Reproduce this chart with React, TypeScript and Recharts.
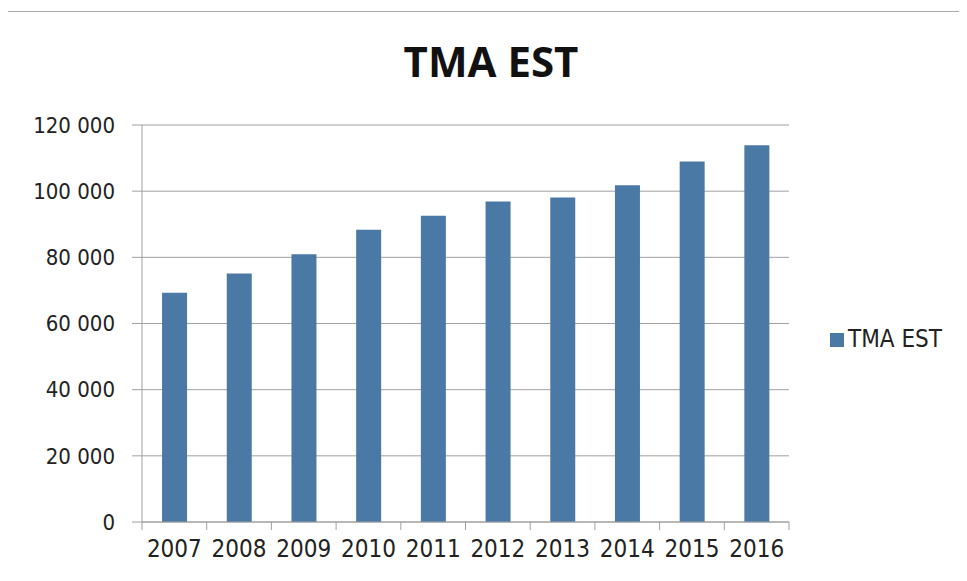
import { BarChart, Bar, XAxis, YAxis, CartesianGrid, Legend } from "recharts";

const years = ["2007", "2008", "2009", "2010", "2011", "2012", "2013", "2014", "2015", "2016"];
const tmaEst = [69300, 75100, 80900, 88300, 92600, 96900, 98100, 101800, 109000, 113900];
const yTicks = [0, 20000, 40000, 60000, 80000, 100000, 120000];
const boundaryTicks = [0, 1, 2, 3, 4, 5, 6, 7, 8, 9, 10];

const data = years.map((year, i) => ({ year, idx: i + 0.5, "TMA EST": tmaEst[i] }));

const barColor = "#4a79a5";
const gridColor = "#a0a0a0";
const axisFont = "'Liberation Sans Narrow', 'DejaVu Sans Condensed', sans-serif";

const fmt = (v: number) => String(v).replace(/\B(?=(\d{3})+(?!\d))/g, " ");

export default function App() {
  return (
    <div
      style={{
        position: "relative",
        width: 959,
        height: 580,
        marginLeft: -1,
        marginTop: 3,
        borderTop: "1px solid #aaa",
        borderLeft: "1px solid #aaa",
        background: "#fff",
      }}
    >
      <div
        style={{
          position: "absolute",
          left: 0,
          top: 28,
          width: 966,
          textAlign: "center",
          fontFamily: "'Open Sans', sans-serif",
          fontWeight: 700,
          fontSize: 42,
          lineHeight: "42px",
          color: "#111",
          zIndex: 1,
        }}
      >
        TMA EST
      </div>
      <BarChart
        width={958}
        height={565}
        data={data}
        margin={{ top: 113, right: 177, bottom: 15, left: 14 }}
        barCategoryGap="31%"
      >
        <CartesianGrid horizontal vertical={false} stroke={gridColor} />
        <XAxis
          xAxisId="bounds"
          type="number"
          dataKey="idx"
          domain={[0, 10]}
          ticks={boundaryTicks}
          tick={() => <g />}
          tickSize={8}
          height={10}
          stroke={gridColor}
          interval={0}
        />
        <XAxis
          xAxisId="cat"
          dataKey="year"
          axisLine={false}
          tickLine={false}
          height={30}
          tickMargin={2}
          tick={{ fill: "#222", fontSize: 24, fontFamily: axisFont }}
          interval={0}
        />
        <YAxis
          domain={[0, 120000]}
          ticks={yTicks}
          tickFormatter={fmt}
          width={120}
          tickSize={10}
          tickMargin={17}
          stroke={gridColor}
          tick={{ fill: "#222", fontSize: 22, fontFamily: axisFont }}
          interval={0}
        />
        <Legend
          layout="vertical"
          align="center"
          verticalAlign="middle"
          iconType="square"
          iconSize={14}
          formatter={(value: string) => <span style={{ color: "#222" }}>{value}</span>}
          wrapperStyle={{ left: 822, top: 313, fontSize: 24, fontFamily: axisFont }}
        />
        <Bar xAxisId="cat" dataKey="TMA EST" fill={barColor} isAnimationActive={false} />
      </BarChart>
    </div>
  );
}
